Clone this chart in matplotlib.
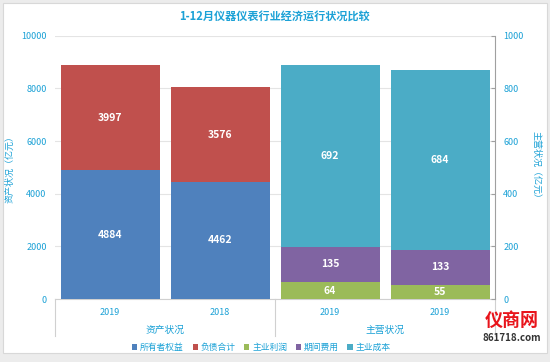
import matplotlib.pyplot as plt
from matplotlib.patches import Rectangle
from matplotlib.lines import Line2D

plt.rcParams['font.family'] = ['Noto Sans CJK SC', 'DejaVu Sans']

years = ["2019", "2018", "2019", "2019"]
groups = ["资产状况", "主营状况"]
owner_equity = [4884, 4462]
liabilities = [3997, 3576]
main_profit = [64, 55]
period_cost = [135, 133]
main_cost = [692, 684]

c_blue = "#4f81bd"
c_red = "#c0504d"
c_green = "#9bbb59"
c_purple = "#8064a2"
c_teal = "#4bacc6"
txt = "#1ba1d6"
grid_c = "#e4e4e4"

fig = plt.figure(figsize=(5.5, 3.62), dpi=100, facecolor="#ececec")
fig.patches.append(Rectangle((0.006, 0.025), 0.988, 0.968, transform=fig.transFigure,
                             facecolor="white", edgecolor="#d8d8d8", linewidth=0.8, zorder=-10))

ax = fig.add_axes([0.1, 0.174, 0.8, 0.727])
ax.set_facecolor("none")
ax2 = ax.twinx()

w = 0.9
lx = [0, 1]
rx = [2, 3]
b1 = ax.bar(lx, owner_equity, w, color=c_blue, zorder=3)
b2 = ax.bar(lx, liabilities, w, bottom=owner_equity, color=c_red, zorder=3)
bottom2 = [a + b for a, b in zip(main_profit, period_cost)]
b3 = ax2.bar(rx, main_profit, w, color=c_green, zorder=3)
b4 = ax2.bar(rx, period_cost, w, bottom=main_profit, color=c_purple, zorder=3)
b5 = ax2.bar(rx, main_cost, w, bottom=bottom2, color=c_teal, zorder=3)

for bars, a in [(b1, ax), (b2, ax), (b3, ax2), (b4, ax2), (b5, ax2)]:
    a.bar_label(bars, label_type="center", color="white", fontsize=7.5, fontweight="bold")

ax.set_xlim(-0.5, 3.5)
ax.set_ylim(0, 10000)
ax2.set_ylim(0, 1000)
ax.set_yticks(range(0, 10001, 2000))
ax2.set_yticks(range(0, 1001, 200))
ax.yaxis.grid(True, color=grid_c, linewidth=0.8, zorder=0)
ax.set_axisbelow(True)
ax.set_xticks([])

for s in ["top", "left", "bottom", "right"]:
    ax.spines[s].set_visible(False)
for s in ["top", "left", "bottom"]:
    ax2.spines[s].set_visible(False)
ax2.spines["right"].set_color("#a0a0a0")
ax2.spines["right"].set_linewidth(0.8)

ax.tick_params(axis="y", length=0, labelsize=6.5, labelcolor=txt, pad=6)
ax2.tick_params(axis="y", length=3, direction="in", color="#a0a0a0", labelsize=6.5, labelcolor=txt, pad=6)

ax.set_ylabel("资产状况（亿元）", color=txt, fontsize=6.5, labelpad=5)
ax2.set_ylabel("主营状况（亿元）", color=txt, fontsize=6.5, rotation=-90, labelpad=12)

# category axis (two levels)
for i, y in enumerate(years):
    ax.text(i, -0.035, y, transform=ax.get_xaxis_transform(), ha="center", va="top",
            fontsize=6.5, color=txt)
for i, g in enumerate(groups):
    ax.text(0.5 + 2 * i, -0.1, g, transform=ax.get_xaxis_transform(), ha="center", va="top",
            fontsize=7, color=txt)
for xs in [-0.5, 1.5, 3.5]:
    ax.add_line(Line2D([xs, xs], [0, -0.14], transform=ax.get_xaxis_transform(),
                       color="#d0d0d0", linewidth=0.8, clip_on=False))
ax.add_line(Line2D([-0.5, 3.5], [0, 0], transform=ax.get_xaxis_transform(),
                   color="#d0d0d0", linewidth=0.8, clip_on=False))

handles = [b1, b2, b3, b4, b5]
names = ["所有者权益", "负债合计", "主业利润", "期间费用", "主业成本"]
leg = fig.legend(handles, names, loc="center", bbox_to_anchor=(0.475, 0.04), ncol=5,
                 frameon=False, fontsize=6.3, handlelength=0.6, handleheight=0.6,
                 handletextpad=0.3, columnspacing=1.0)
for t in leg.get_texts():
    t.set_color(txt)

fig.text(0.5, 0.955, "1-12月仪器仪表行业经济运行状况比较", ha="center", va="center",
         fontsize=8, fontweight="bold", color=txt)

# watermark
fig.text(0.93, 0.115, "仪商网", ha="center", va="center", fontsize=13, fontweight="bold", color="#e8141b")
fig.text(0.93, 0.065, "861718.com", ha="center", va="center", fontsize=7, fontweight="bold",
         style="italic", color="#333333")

fig.savefig("out.png", dpi=100, facecolor=fig.get_facecolor())
